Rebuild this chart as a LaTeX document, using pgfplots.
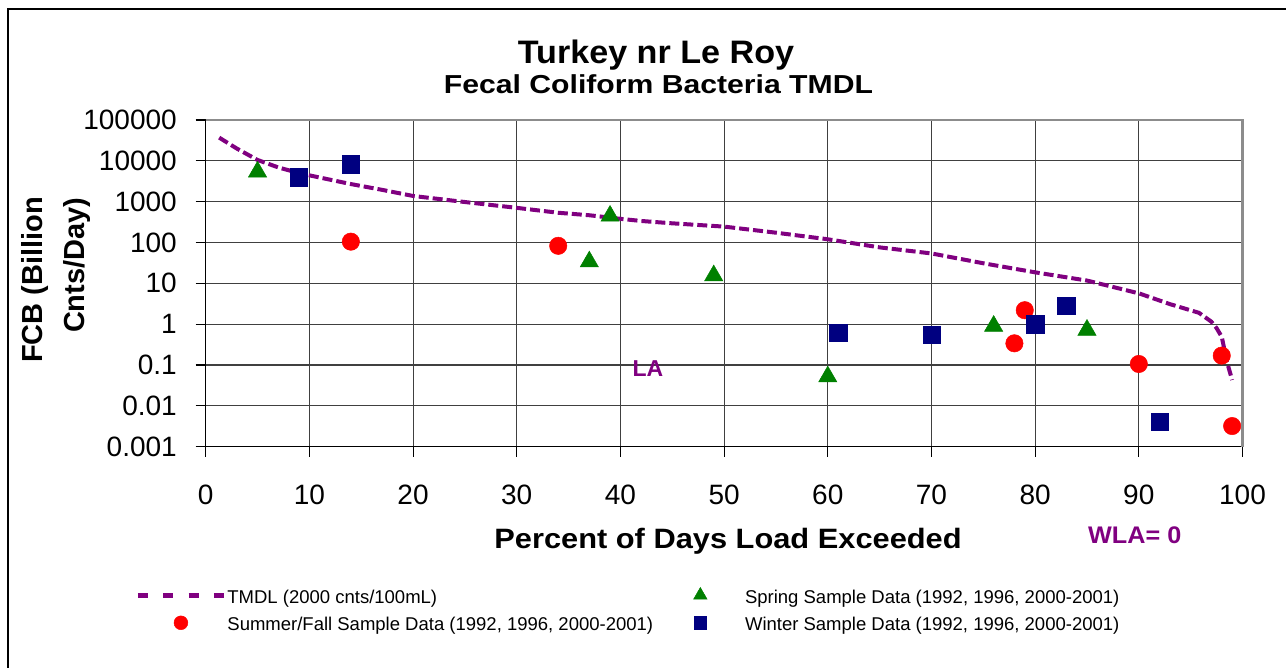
\documentclass[border=0pt]{standalone}
\usepackage{fontspec}
\setmainfont{Liberation Sans}
\usepackage{graphicx}
\usepackage{pgfplots}
\pgfplotsset{compat=1.18}
\definecolor{tmdl}{HTML}{800080}
\definecolor{spring}{HTML}{008000}
\definecolor{summer}{HTML}{FF0000}
\definecolor{winter}{HTML}{000080}
\pgfplotsset{
  tmdlleg/.style={legend image code/.code={\path (0pt,-6pt) (86pt,16pt); \draw[##1, overlay, line width=5.5pt, dash pattern=on 10pt off 15.3pt] (0pt,1.8pt) -- (86pt,1.8pt);}},
  markleg/.style={legend image code/.code={\path (0pt,-6pt) (86pt,16pt); \draw[##1, overlay, mark size=#1] plot coordinates {(43pt,1.8pt)};}},
}
\begin{document}
\begin{tikzpicture}[x=1pt,y=1pt]
\useasboundingbox (0,0) rectangle (1286,668);
\draw[line width=2pt] (8,0) -- (8,658.5) -- (1286,658.5);
\begin{axis}[
  at={(205.7pt,221.3pt)}, anchor=south west,
  scale only axis, width=1036.8pt, height=326.7pt,
  xmin=0, xmax=100, ymode=log, ymin=1e-3, ymax=1e5,
  xtick={0,10,...,100}, xticklabels={0,10,20,30,40,50,60,70,80,90,100},
  ytick={1e-3,1e-2,1e-1,1,10,100,1000,10000,100000},
  yticklabels={0.001,0.01,0.1,1,10,100,1000,10000,100000},
  yminorticks=false, xminorticks=false,
  grid=major, major grid style={black!75, line width=1.1pt},
  axis line style={draw=none},
  tick align=outside, xtick pos=left, ytick pos=left,
  major tick length=10pt, tick style={black, line width=1.1pt},
  ticklabel style={font=\fontsize{28}{30}\selectfont, inner sep=0pt},
  yticklabel style={xshift=-18.7pt},
  xticklabel style={yshift=-27.8pt},
  xlabel={\scalebox{1.1}[1]{Percent of Days Load Exceeded}},
  xlabel style={at={(axis description cs:0.5038,-0.3101)}, anchor=base, inner sep=0pt, font=\fontsize{28}{30}\selectfont\bfseries},
  ylabel={FCB (Billion\\\hspace*{30pt}Cnts/Day)},
  ylabel style={at={(axis description cs:-0.1444,0.5102)}, anchor=center, inner sep=0pt, align=left, font=\fontsize{29}{42}\selectfont\bfseries},
  legend columns=2, legend cell align=left,
  legend style={at={(-0.0673,-0.40526)}, anchor=north west, draw=none, fill=none,
    inner sep=0pt, outer sep=0pt, font=\fontsize{18.5}{20}\selectfont,
    nodes={inner sep=0pt},
    row sep=3.3pt,
    /tikz/every odd column/.append style={column sep=1.5pt},
    /tikz/every even column/.append style={column sep=4pt}},
]
\addplot[tmdl, line width=4pt, dash pattern=on 10pt off 4pt, tmdlleg]
  coordinates {(1.3,37000) (3,20000) (5,10500) (7,6900) (9,5000) (11,3900) (14,2700) (17,1950) (20,1380) (25,980) (30,706) (34,535) (37,465) (40,380) (42,337) (45,295) (50,245) (55,174) (60,120) (65,76) (70,54) (75,31) (80,18.6) (85,11.7) (88,7.6) (90,5.7) (93,3.1) (95.8,1.9) (97,1.15) (97.5,0.8) (98,0.49) (98.5,0.12) (99,0.043)};
\addlegendentry{TMDL (2000 cnts/100mL)}
\addplot[only marks, mark=triangle*, mark size=10.5pt, color=spring, mark options={fill=spring, draw=spring, line width=0.5pt}, markleg=7.8pt]
  coordinates {(5,5400) (37,34) (39,446) (49,15.5) (60,0.052) (76,0.9) (85,0.72)};
\addlegendentry{Spring Sample Data (1992, 1996, 2000-2001)}
\addplot[only marks, mark=*, mark size=8.7pt, color=summer, mark options={fill=summer, draw=summer, line width=0.5pt}, markleg=6.9pt]
  coordinates {(14,105) (34,83) (78,0.34) (79,2.2) (90,0.106) (98,0.17) (99,0.0032)};
\addlegendentry{Summer/Fall Sample Data (1992, 1996, 2000-2001)}
\addplot[only marks, mark=square*, mark size=8.7pt, color=winter, mark options={fill=winter, draw=winter, line width=0.5pt}, markleg=6.3pt]
  coordinates {(9,4000) (14,8200) (61,0.62) (70,0.56) (80,1.0) (83,2.8) (92,0.0041)};
\addlegendentry{Winter Sample Data (1992, 1996, 2000-2001)}
\end{axis}
\draw[black, line width=1.5pt] (205.7,547.9) -- (205.7,221.3) -- (1242.5,221.3);
\draw[black!45, line width=2.5pt] (205.7,547.9) -- (1242.5,547.9) -- (1242.5,221.3);
\node[anchor=base, inner sep=0pt, font=\fontsize{32.5}{34}\selectfont\bfseries] at (656,604.7) {\scalebox{1.05}[1]{Turkey nr Le Roy}};
\node[anchor=base, inner sep=0pt, font=\fontsize{26}{28}\selectfont\bfseries] at (658.5,574.7) {\scalebox{1.16}[1]{Fecal Coliform Bacteria TMDL}};
\node[anchor=base, inner sep=0pt, text=tmdl, font=\fontsize{23}{25}\selectfont\bfseries] at (648,291) {LA};
\node[anchor=base west, inner sep=0pt, text=tmdl, font=\fontsize{24}{26}\selectfont\bfseries] at (1088,124) {\scalebox{1.05}[1]{WLA= 0}};
\end{tikzpicture}
\end{document}
